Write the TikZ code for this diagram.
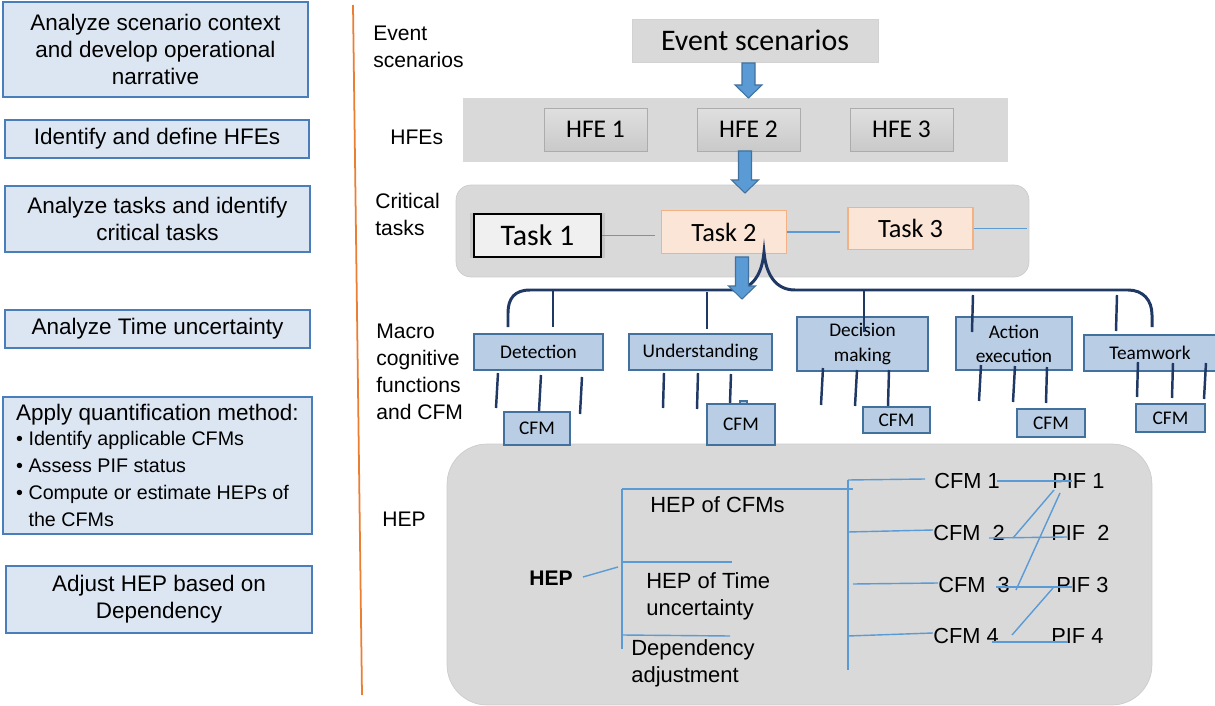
\documentclass[tikz,border=0pt]{standalone}
\usepackage{fontspec}
\setmainfont{Liberation Sans}
\newfontfamily\calibri{Carlito}
\usetikzlibrary{calc,shadows}
\definecolor{stepfill}{HTML}{DCE6F2}
\definecolor{stepline}{HTML}{4A7EBB}
\definecolor{bandgray}{HTML}{D9D9D9}
\definecolor{funcfill}{HTML}{B9CDE5}
\definecolor{funcline}{HTML}{41719C}
\definecolor{navy}{HTML}{1F3864}
\definecolor{linkblue}{HTML}{5B9BD5}
\definecolor{taskfill}{HTML}{FBE5D6}
\definecolor{taskline}{HTML}{F4B183}
\definecolor{divider}{HTML}{ED7D31}
\tikzset{
  stepbox/.style={draw=stepline,fill=stepfill,line width=1.1pt,align=center,
    inner sep=0pt,font=\fontsize{12.8}{15.4}\selectfont},
  rowlabel/.style={anchor=west,align=left,inner sep=0pt,font=\fontsize{12}{15.4}\selectfont},
  hfebox/.style={draw=gray!65,top color=gray!25,bottom color=gray!42,minimum width=2.06cm,
    minimum height=0.86cm,font=\calibri\fontsize{14.5}{17}\selectfont},
  taskbox/.style={draw=taskline,fill=taskfill,line width=0.8pt,minimum width=2.5cm,
    minimum height=0.85cm,font=\calibri\fontsize{15}{18}\selectfont},
  funcbox/.style={draw=funcline,fill=funcfill,line width=1.1pt,align=center,inner sep=0pt,
    font=\calibri\fontsize{11}{13.7}\selectfont},
  funcstem/.style={navy,line width=1.4pt},
  bluelink/.style={linkblue,line width=0.8pt},
  heptext/.style={anchor=west,align=left,inner sep=0pt,font=\fontsize{12.5}{15.6}\selectfont},
  treelabel/.style={anchor=west,inner sep=0pt,font=\fontsize{12.4}{14}\selectfont},
  pics/blockdown/.style={code={
    \draw[funcline,fill=linkblue,line width=0.6pt] (-6.5,0) -- (-6.5,#1-13) -- (-13.5,#1-13)
      -- (0,#1) -- (13.5,#1-13) -- (6.5,#1-13) -- (6.5,0) -- cycle;}}
}
\begin{document}
\begin{tikzpicture}[x=0.02cm,y=-0.02cm]
  \useasboundingbox (0,0) rectangle (1215,706);
  \node[stepbox,minimum width=6.1cm,minimum height=1.9cm] (s1) at (155.5,49.5)
    {Analyze scenario context\\and develop operational\\narrative};
  \node[stepbox,minimum width=6.08cm,minimum height=0.76cm] (s2) at (157,139)
    {Identify and define HFEs};
  \node[stepbox,minimum width=6.1cm,minimum height=1.32cm] (s3) at (157.5,219)
    {Analyze tasks and identify\\critical tasks};
  \node[stepbox,minimum width=6.1cm,minimum height=0.76cm] (s4) at (157.5,329)
    {Analyze Time uncertainty};
  \node[stepbox,align=left,minimum width=6.18cm,minimum height=2.74cm] (s5) at (157.5,465.5)
    {Apply quantification method:\\[-1pt]
    \fontsize{11.2}{13.7}\selectfont\textbullet\ Identify applicable CFMs\\
    \fontsize{11.2}{13.7}\selectfont\textbullet\ Assess PIF status\\
    \fontsize{11.2}{13.7}\selectfont\textbullet\ Compute or estimate HEPs of\\
    \fontsize{11.2}{13.7}\selectfont\phantom{\textbullet\ }the CFMs};
  \node[stepbox,minimum width=6.12cm,minimum height=1.34cm] (s6) at (159,599.5)
    {Adjust HEP based on\\Dependency};
  \draw[divider,line width=1pt] (353,5) -- (362,695);

  \node[rowlabel] (lev) at (373,46.5) {Event\\scenarios};
  \node[rowlabel] (lhfe) at (390,137) {HFEs};
  \node[rowlabel] (ltask) at (375,214) {Critical\\tasks};
  \node[rowlabel] (lfunc) at (376,371.5) {Macro\\cognitive\\functions\\and CFM};
  \node[rowlabel] (lhep) at (382,519) {HEP};

  \node[draw=gray!35,fill=bandgray,minimum width=4.92cm,minimum height=0.86cm,
    font=\calibri\fontsize{17}{20}\selectfont] (ev) at (755,40.5) {Event scenarios};
  \node[fill=bandgray,minimum width=10.9cm,minimum height=1.28cm] (hfeband) at (735.5,130) {};
  \node[hfebox] (hfe1) at (595.5,129.5) {HFE 1};
  \node[hfebox] (hfe2) at (748.5,129.5) {HFE 2};
  \node[hfebox] (hfe3) at (901.5,129.5) {HFE 3};
  \pic at (748.5,63) {blockdown=35};

  \node[draw=gray!40,fill=bandgray,rounded corners=0.3cm,minimum width=11.46cm,
    minimum height=1.84cm] (taskband) at (742.5,231) {};
  \node[taskbox,draw=black,fill=gray!12,line width=1.2pt,
    drop shadow={shadow xshift=0pt,shadow yshift=0pt,shadow scale=1.07,opacity=0.2},
    minimum width=2.54cm,font=\calibri\fontsize{17}{20}\selectfont] (t1) at (537.5,235.5) {Task 1};
  \node[taskbox] (t2) at (724,232) {Task 2};
  \node[taskbox] (t3) at (910.5,228.5) {Task 3};
  \draw[bluelink] (t1.east) -- ++(53,0);
  \draw[bluelink] (t2.east) -- ++(53,0);
  \draw[bluelink] (t3.east) -- ++(53,0);
  \pic at (745,151) {blockdown=42};

  \node[draw=gray!40,fill=bandgray,rounded corners=0.8cm,minimum width=14.1cm,
    minimum height=5.22cm] (heparea) at (799.5,574.5) {};

  \node[funcbox,minimum width=2.58cm,minimum height=0.72cm] (det) at (538.5,352) {Detection};
  \node[funcbox,minimum width=2.86cm,minimum height=0.72cm] (und) at (700.5,352) {Understanding};
  \node[funcbox,minimum width=2.62cm,minimum height=1.08cm] (dec) at (862.5,344) {Decision\\making};
  \node[funcbox,minimum width=2.32cm,minimum height=1.06cm] (act) at (1014,343.5) {Action\\execution};
  \node[funcbox,minimum width=2.64cm,minimum height=0.72cm] (team) at (1150,353) {Teamwork};

  \draw[navy,line width=1.7pt] (508,327) -- (508,313) .. controls (508,298) and (515,290) .. (530,290)
    -- (733,290) .. controls (752,290) and (762,275) .. (764,252)
    .. controls (766,275) and (776,290) .. (795,290) -- (1128,290)
    .. controls (1143,290) and (1152,300) .. (1152,315) -- (1152,327);
  \foreach \xa/\ya/\xb/\yb in {553/290/553/327,707/292/707/329,864/290/864/332,973/295/972/332,
    1117/295/1116/331,498/373/496/408,541/375/539/411,582/377/580/414,664/373/663/408,
    698/373/697/409,731/374/730/403,823/368/821/405,857/370/855/406,889/370/888/406,
    981/365/979/401,1015/366/1013/402,1047/367/1046/403,1138/362/1137/397,1173/363/1172/398,
    1206/363/1204/399}
    \draw[funcstem] (\xa,\ya) -- (\xb,\yb);
  \pic at (742,257) {blockdown=42};

  \node[funcbox,minimum width=1.32cm,minimum height=0.66cm] (cfmd) at (537,428.5) {CFM};
  \draw[funcline,fill=funcfill,line width=0.6pt] (740,401) rectangle (747,404);
  \node[funcbox,minimum width=1.36cm,minimum height=0.82cm] (cfmu) at (741,424.5) {CFM};
  \node[funcbox,minimum width=1.34cm,minimum height=0.52cm] (cfmdm) at (896.5,420) {CFM};
  \node[funcbox,minimum width=1.36cm,minimum height=0.56cm] (cfmae) at (1051,423) {CFM};
  \node[funcbox,minimum width=1.38cm,minimum height=0.56cm] (cfmt) at (1170.5,418) {CFM};

  \node[inner sep=0pt,font=\bfseries\fontsize{12}{14}\selectfont] (hep) at (551,578) {HEP};
  \draw[bluelink] ($(hep.east)+(10,-1)$) -- (618,567);
  \draw[bluelink] (622,489) -- (622,649);
  \draw[bluelink] (622,489) -- (853,489);
  \draw[bluelink] (622,562) -- (732,562);
  \draw[bluelink] (622,635) -- (730,636);
  \node[heptext] (hepcfm) at (650,505) {HEP of CFMs};
  \node[heptext] (heptime) at (646,596.5) {HEP of Time\\uncertainty};
  \node[heptext] (hepdep) at (631,663.5) {Dependency\\adjustment};

  \node[treelabel] (cfm1) at (934,481) {CFM 1};
  \node[treelabel] (cfm2) at (933,533) {CFM\ \ 2};
  \node[treelabel] (cfm3) at (938,585) {CFM\ \ 3};
  \node[treelabel] (cfm4) at (933,636) {CFM 4};
  \node[treelabel] (pif1) at (1052,481) {PIF 1};
  \node[treelabel] (pif2) at (1051,533) {PIF\ \ 2};
  \node[treelabel] (pif3) at (1056,585) {PIF 3};
  \node[treelabel] (pif4) at (1051,636) {PIF 4};
  \draw[bluelink] (848,480) -- (848,670);
  \draw[bluelink] (848,480) -- ($(cfm1.west)+(-9,-2)$);
  \draw[bluelink] (848,532) -- ($(cfm2.west)+(0,-3)$);
  \draw[bluelink] (853,584) -- ($(cfm3.west)+(0,-2)$);
  \draw[bluelink] (848,636) -- ($(cfm4.west)+(0,-3)$);
  \draw[bluelink] ($(cfm1.east)+(-3,0)$) -- ($(pif1.west)+(20,0)$);
  \draw[bluelink] ($(cfm2.west)+(56,5)$) -- ($(pif2.west)+(16,4)$);
  \draw[bluelink] ($(cfm2.west)+(80,5)$) -- ($(pif1.west)+(2,9)$);
  \draw[bluelink] ($(cfm3.west)+(78,5)$) -- ($(pif1.west)+(8,12)$);
  \draw[bluelink] ($(cfm3.west)+(58,2)$) -- ($(pif3.west)+(16,2)$);
  \draw[bluelink] ($(cfm4.west)+(79,-1)$) -- ($(pif3.west)+(-3,3)$);
  \draw[bluelink] ($(cfm4.west)+(59,6)$) -- ($(pif4.west)+(17,6)$);
\end{tikzpicture}
\end{document}
